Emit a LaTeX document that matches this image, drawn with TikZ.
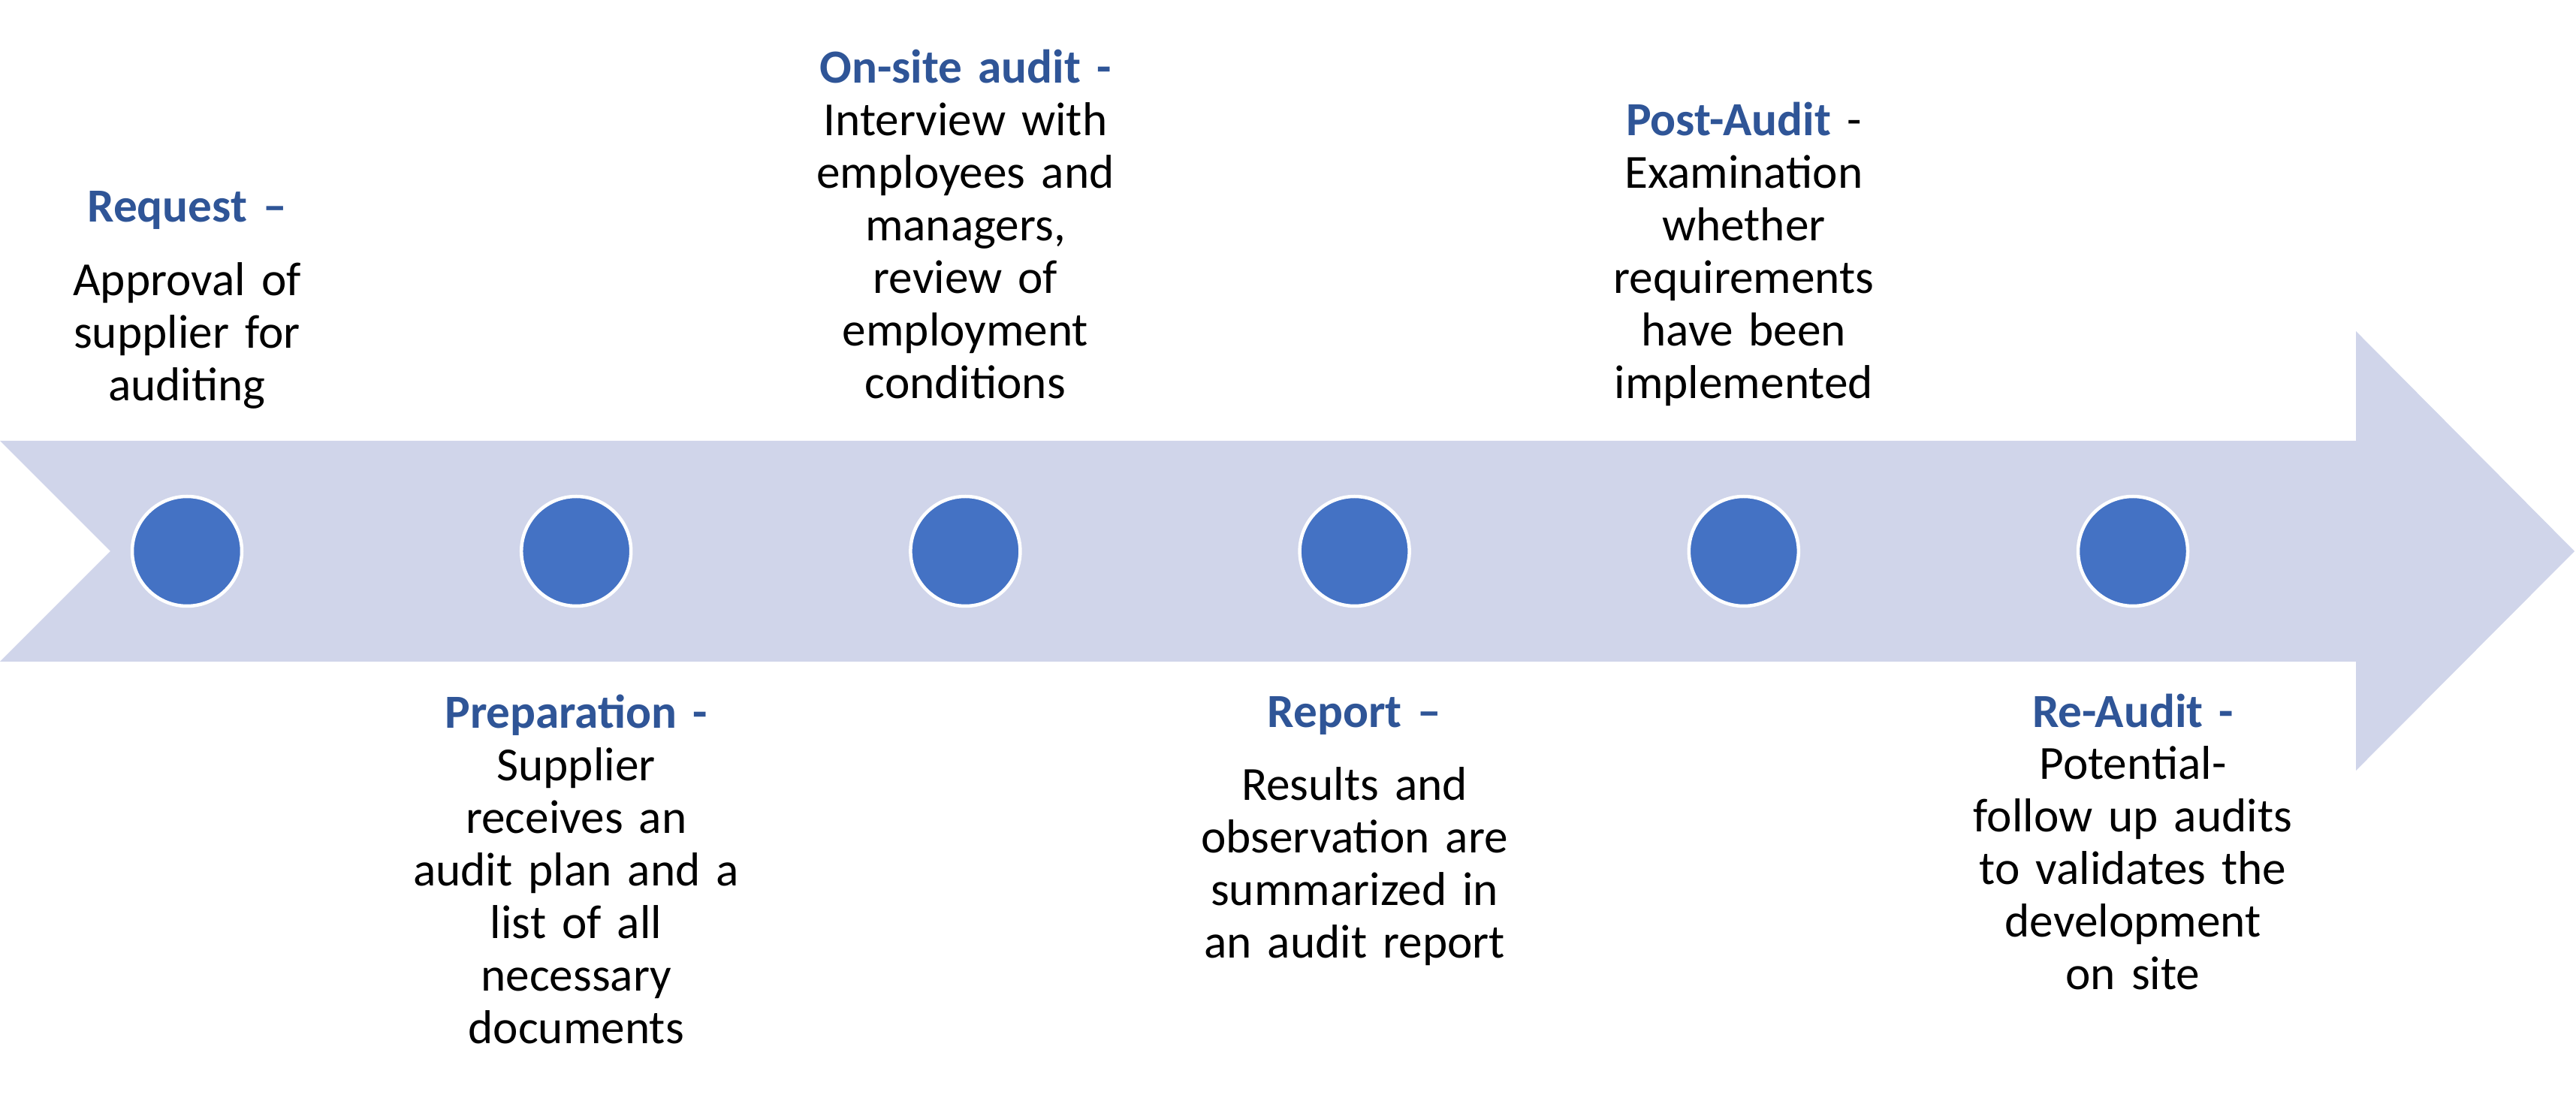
\documentclass[tikz,border=0pt]{standalone}
\usepackage{fontspec}
\setmainfont{Carlito}
\usepackage{tikz}
\usetikzlibrary{positioning, calc}
\definecolor{bandfill}{HTML}{D0D5EA}
\definecolor{dotblue}{HTML}{4472C4}
\definecolor{titleblue}{HTML}{2F5597}

\begin{document}
\begin{tikzpicture}[
    every node/.style={font=\fontsize{18}{19.9}\selectfont},
    dot/.style={circle, fill=dotblue, draw=white, line width=0.045cm, minimum size=1.46cm, inner sep=0pt},
    steptext/.style={align=center, text width=6cm, anchor=base, inner sep=0pt}
]

    \useasboundingbox (0,0) rectangle (34.30,14.69);
    \def\colw{5.182}

    % --- the band ---
    \fill[bandfill] (0,8.82) -- (31.37,8.82) -- (31.37,10.28) -- (34.28,7.35)
        -- (31.37,4.43) -- (31.37,5.88) -- (0,5.88) -- (1.47,7.35) -- cycle;

    % --- milestones ---
    \foreach \i in {1,...,6} {
        \node[dot] (c\i) at ({2.49+(\i-1)*\colw}, 7.35) {};
    }

    % --- texts above ---
    \node[steptext] (request) at (c1 |- 0,11.73)
        {{\bfseries\color{titleblue}Request –}\\[0.28cm]
         Approval of\\supplier for\\auditing};
    \node[steptext] (onsite) at (c3 |- 0,13.58)
        {{\bfseries\color{titleblue}On-site audit -}\\
         Interview with\\employees and\\managers,\\review of\\employment\\conditions};
    \node[steptext] (postaudit) at (c5 |- 0,12.88)
        {{\bfseries\color{titleblue}Post-Audit} -\\
         Examination\\whether\\requirements\\have been\\implemented};

    % --- texts below ---
    \node[steptext] (prep) at (c2 |- 0,4.99)
        {{\bfseries\color{titleblue}Preparation -}\\
         Supplier\\receives an\\audit plan and a\\list of all\\necessary\\documents};
    \node[steptext] (report) at (c4 |- 0,5.01)
        {{\bfseries\color{titleblue}Report –}\\[0.28cm]
         Results and\\observation are\\summarized in\\an audit report};
    \node[steptext] (reaudit) at (c6 |- 0,5.01)
        {{\bfseries\color{titleblue}Re-Audit -}\\
         Potential-\\follow up audits\\to validates the\\development\\on site};

\end{tikzpicture}
\end{document}
